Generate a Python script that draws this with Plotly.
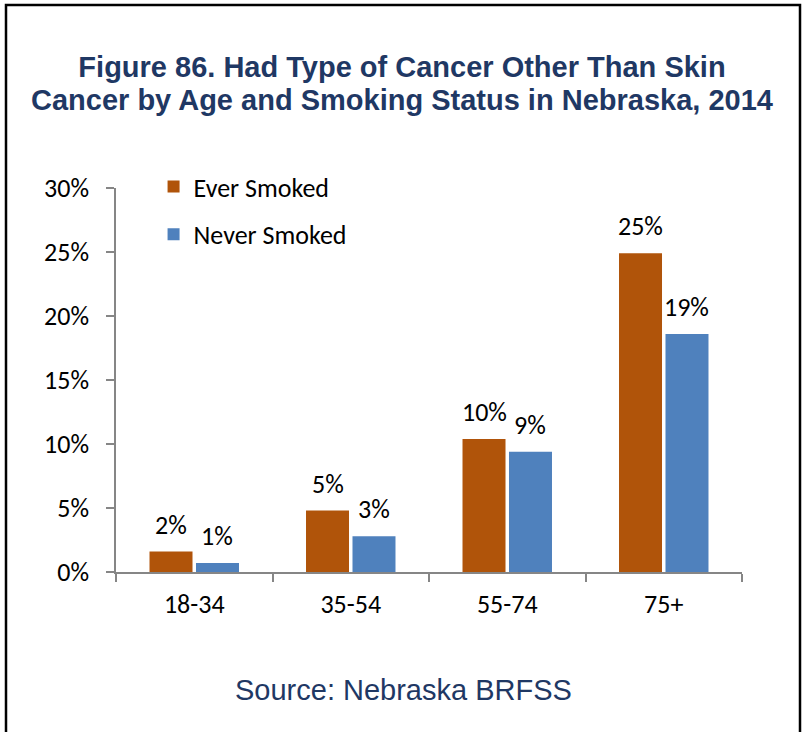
import plotly.graph_objects as go

categories = ["18-34", "35-54", "55-74", "75+"]
ever_smoked = [1.6, 4.8, 10.4, 24.9]
never_smoked = [0.7, 2.8, 9.4, 18.6]
series_names = ["Ever Smoked", "Never Smoked"]
series_colors = ["#B0540A", "#4F81BD"]
y_ticks = [0, 5, 10, 15, 20, 25, 30]
title_lines = ["Figure 86. Had Type of Cancer Other Than Skin",
               "Cancer by Age and Smoking Status in Nebraska, 2014"]
source_text = "Source: Nebraska BRFSS"

W, H = 804, 732
L, R, T, B = 116, 62, 188, 160
plot_w = W - L - R
plot_h = H - T - B
bargap = 0.406
bargroupgap = 0.075

NAVY = "#1F3864"
label_font = dict(family="Carlito, Lato, sans-serif", size=26, color="#000000")
title_font = dict(family="Liberation Sans, Arial, sans-serif", size=29, color=NAVY)


def px_to_paper_y(py):
    return (T + plot_h - py) / plot_h


def px_to_paper_x(px):
    return (px - L) / plot_w


fig = go.Figure()
for name, vals, col in zip(series_names, [ever_smoked, never_smoked], series_colors):
    fig.add_trace(go.Bar(
        x=categories, y=vals, name=name, marker=dict(color=col, line=dict(width=0)),
        legendgroup=name, hoverinfo="skip",
    ))

# data labels
slot = plot_w / len(categories) * (1 - bargap) / 2
for i, vals in enumerate([ever_smoked, never_smoked]):
    shift = (i - 0.5) * slot
    for c, v in zip(categories, vals):
        fig.add_annotation(x=c, y=v, text=f"{v:.0f}%", showarrow=False,
                           xshift=shift, yshift=9, yanchor="bottom",
                           font=label_font)

# second title line
fig.add_annotation(x=px_to_paper_x(W / 2), xref="paper", xanchor="center",
                   y=px_to_paper_y(100), yref="paper", yanchor="middle",
                   text=f"<b>{title_lines[1]}</b>", showarrow=False, font=title_font)

# source
fig.add_annotation(x=px_to_paper_x(403), y=px_to_paper_y(690), xref="paper", yref="paper",
                   text=source_text, showarrow=False, yanchor="middle",
                   font=dict(family="Liberation Sans, Arial, sans-serif", size=29, color=NAVY))

# frame
fig.add_shape(type="rect", xref="paper", yref="paper",
              x0=px_to_paper_x(6), x1=px_to_paper_x(800),
              y0=px_to_paper_y(745), y1=px_to_paper_y(5),
              line=dict(color="#000000", width=2.5), fillcolor="rgba(0,0,0,0)", layer="above")

fig.update_layout(
    width=W, height=H,
    margin=dict(l=L, r=R, t=T, b=B),
    paper_bgcolor="white", plot_bgcolor="white",
    barmode="group", bargap=bargap, bargroupgap=bargroupgap,
    title=dict(
        text=f"<b>{title_lines[0]}</b>",
        x=0.5, xanchor="center", xref="container",
        y=1 - 67 / H, yanchor="middle", yref="container",
        font=title_font,
    ),
    legend=dict(x=0.06, y=1.065, xanchor="left", yanchor="top",
                font=label_font, tracegroupgap=11, bgcolor="rgba(0,0,0,0)",
                traceorder="grouped"),
    xaxis=dict(showline=True, linecolor="#868686", linewidth=1.5,
               ticks="outside", tickson="boundaries", ticklen=8, tickcolor="#868686", tickwidth=1.5,
               ticklabelstandoff=8,
               tickfont=label_font, showgrid=False, fixedrange=True),
    yaxis=dict(range=[0, 30], tickvals=y_ticks, ticktext=[f"{t}%" for t in y_ticks],
               showline=True, linecolor="#868686", linewidth=1.5,
               ticks="outside", ticklen=8, tickcolor="#868686", tickwidth=1.5,
               ticklabelstandoff=12,
               tickfont=label_font, showgrid=False, zeroline=False, fixedrange=True),
    showlegend=True,
)

fig.write_html("out.html", config={"displayModeBar": False},
               post_script="document.body.style.margin='0px';")
